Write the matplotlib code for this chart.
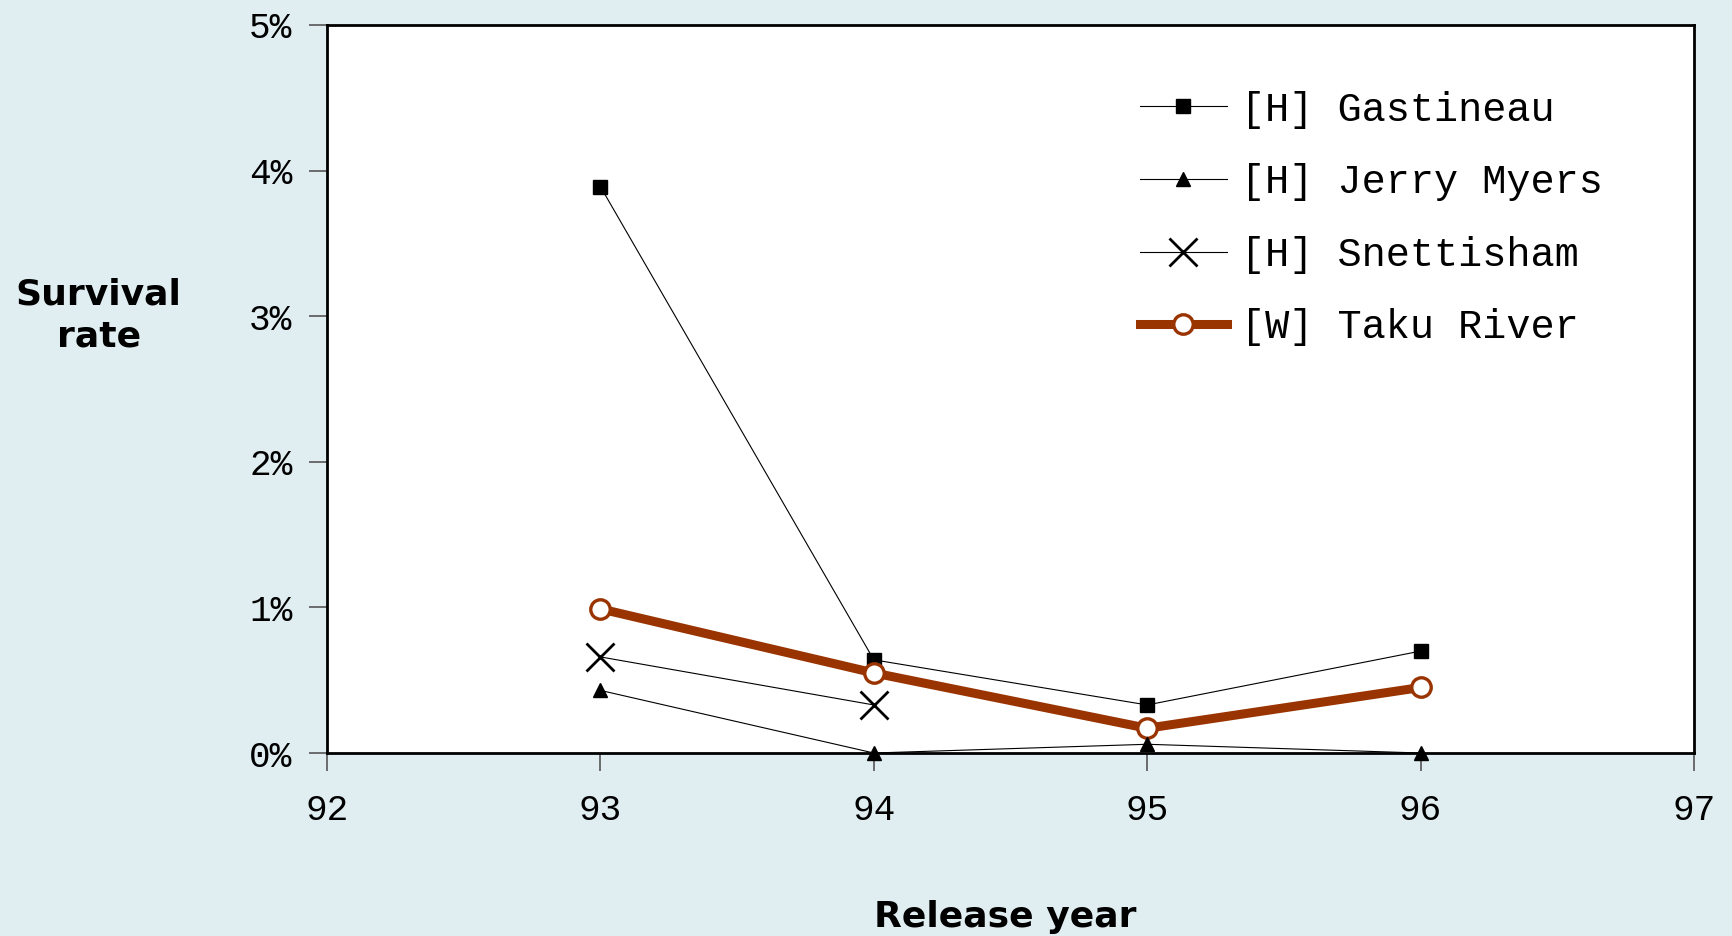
import matplotlib.pyplot as plt
from matplotlib.ticker import FuncFormatter

# release years and survival rates (%)
years = [93, 94, 95, 96]
gastineau = [3.89, 0.64, 0.33, 0.70]
jerry_myers = [0.43, 0.0, 0.06, 0.0]
snett_years = [93, 94]
snettisham = [0.66, 0.33]
taku = [0.99, 0.55, 0.17, 0.45]

bg = '#e0eef2'
rust = '#993300'
mono = 'Liberation Mono'

fig = plt.figure(figsize=(17.33, 9.36), dpi=100, facecolor=bg)
ax = fig.add_axes([0.1887, 0.1955, 0.7888, 0.7778])
ax.set_facecolor('white')

ax.plot(years, gastineau, color='black', lw=0.8, marker='s', ms=10,
        label='[H] Gastineau', clip_on=False)
ax.plot(years, jerry_myers, color='black', lw=0.8, marker='^', ms=10,
        label='[H] Jerry Myers', clip_on=False, zorder=4)
ax.plot(snett_years, snettisham, color='black', lw=0.8, marker='x', ms=20,
        mew=2, label='[H] Snettisham')
ax.plot(years, taku, color=rust, lw=6.5, marker='o', ms=14, mfc='white',
        mec=rust, mew=2.4, label='[W] Taku River')

ax.set_xlim(92, 97)
ax.set_ylim(0, 5)
ax.set_xticks([92, 93, 94, 95, 96, 97])
ax.set_yticks([0, 1, 2, 3, 4, 5])
ax.yaxis.set_major_formatter(FuncFormatter(lambda v, p: f'{v:.0f}%'))

for s in ax.spines.values():
    s.set_linewidth(2)
ax.tick_params(axis='both', direction='out', length=13, width=1.2,
               color='#555555', labelsize=26)
ax.tick_params(axis='x', pad=16)
ax.tick_params(axis='y', pad=12)
for lab in ax.get_xticklabels() + ax.get_yticklabels():
    lab.set_fontfamily(mono)

fig.text(0.057, 0.663, 'Survival\nrate', ha='center', va='center',
         fontsize=26, fontweight='bold', linespacing=1.3)
fig.text(0.58, 0.02, 'Release year', ha='center', va='center',
         fontsize=26, fontweight='bold')

ax.legend(loc='upper left', bbox_to_anchor=(0.637, 0.942),
          bbox_transform=fig.transFigure, frameon=False,
          prop={'family': mono, 'size': 29}, handlelength=2.15,
          handletextpad=0.35, labelspacing=0.86)

fig.savefig('out.png', dpi=100, facecolor=bg)
